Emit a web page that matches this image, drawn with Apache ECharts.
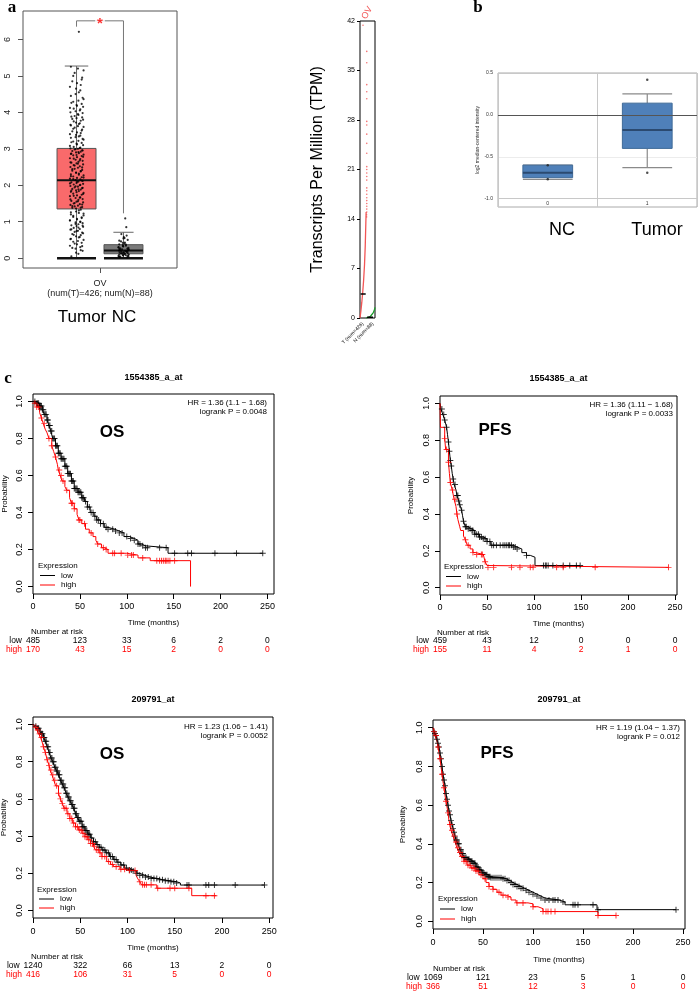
<!DOCTYPE html>
<html><head><meta charset="utf-8">
<script src="https://cdn.jsdelivr.net/npm/echarts@6.0.0/dist/echarts.min.js"></script>
<style>html,body{margin:0;padding:0;background:#fff}#wrap{position:relative;width:700px;height:992px}
.layer{position:absolute;left:0;top:0;width:700px;height:992px}
#ca{clip-path:inset(0 280px 632px 0)}#cb{clip-path:inset(0 0 632px 420px)}#cc{clip-path:inset(360px 0 0 0)}</style>
</head><body><div id="wrap"><div id="ca" class="layer"></div><div id="cb" class="layer"></div><div id="cc" class="layer"></div></div>
<script>
// ================= DATA =================
// Panel a (boxplot, GEPIA style)
const aGroups = ['Tumor', 'NC'];
const aBoxStats = [[0, 1.35, 2.14, 3.01, 5.27], [0, 0.12, 0.21, 0.37, 0.71]]; // low, q1, median, q3, upper whisker
const aYTicks = [0, 1, 2, 3, 4, 5, 6];
const aTumorValues = [0.05,0.12,0.2,0.26,0.3,0.34,0.38,0.42,0.45,0.5,0.53,0.57,0.6,0.63,0.66,0.7,0.72,0.75,0.78,0.8,0.83,0.86,0.88,0.9,0.93,0.96,0.98,1.0,1.03,1.06,1.1,1.13,1.17,1.2,1.24,1.28,1.33,
 1.38,1.4,1.42,1.44,1.46,1.48,1.5,1.53,1.55,1.57,1.6,1.62,1.65,1.67,1.7,1.72,1.74,1.77,1.79,1.82,1.84,1.86,1.88,1.9,1.92,1.94,1.96,1.98,2.0,2.02,2.04,2.06,2.08,2.1,2.12,2.14,2.16,2.18,2.2,2.22,2.24,2.27,2.3,2.32,2.35,2.38,2.4,2.42,2.45,2.48,2.5,2.52,2.55,2.57,2.6,2.62,2.64,2.67,2.7,2.72,2.74,2.77,2.8,2.82,2.84,2.86,2.88,2.9,2.92,2.94,2.96,2.98,3.0,3.01,3.02,
 3.05,3.1,3.14,3.18,3.22,3.27,3.32,3.36,3.4,3.45,3.5,3.55,3.6,3.64,3.68,3.72,3.77,3.82,3.86,3.9,3.95,4.0,4.05,4.1,4.15,4.2,4.26,4.32,4.4,4.5,4.6,4.7,4.8,4.9,5.0,5.15,5.25,6.21,
 0.15,0.22,0.28,0.33,0.4,0.47,0.52,0.58,0.64,0.68,0.74,0.79,0.84,0.89,0.94,0.99,1.04,1.08,1.12,1.16,1.22,1.26,1.31,1.36,
 1.39,1.43,1.47,1.51,1.56,1.61,1.66,1.71,1.76,1.81,1.85,1.89,1.93,1.97,2.01,2.05,2.09,2.13,2.17,2.21,2.25,2.29,2.34,2.39,2.44,2.49,2.54,2.59,2.63,2.68,2.73,2.78,2.83,2.87,2.91,2.95,2.99,
 3.03,3.08,3.12,3.16,3.2,3.25,3.3,3.34,3.38,3.43,3.48,3.53,3.58,3.62,3.66,3.7,3.75,3.8,3.84,3.88,3.93,3.98,4.03,4.08,4.12,4.18,4.23,4.29,4.36,4.45,4.55,4.65,4.75,4.85,4.95,5.08,5.2];
const aNCValues = [0.02,0.03,0.04,0.05,0.06,0.07,0.08,0.09,0.1,0.11,0.12,0.13,0.14,0.15,0.16,0.17,0.18,0.19,0.2,0.21,0.22,0.23,0.24,0.25,0.26,0.27,0.28,0.3,0.32,0.34,0.36,0.38,0.4,0.43,0.46,0.5,0.54,0.58,0.62,0.66,0.85,1.09,
 0.04,0.07,0.1,0.13,0.16,0.19,0.22,0.25,0.29,0.33,0.37,0.42,0.48,0.55];
const aJitter = [-0.11,0.04,0.13,-0.02,0.08,-0.14,0.01,0.11,-0.07,0.15,-0.12,0.05,-0.01,0.09,-0.09,0.12,-0.04,0.03,-0.13,0.07,-0.06,0.14,0.0];
const aXLabel = 'OV\n(num(T)=426; num(N)=88)';

// Panel a (TPM dot plot)
const tpmTicks = [0, 7, 14, 21, 28, 35, 42];
const tpmTumorCurve = [[0,0],[0.06,1],[0.12,2.2],[0.18,3.6],[0.24,5.3],[0.3,7.5],[0.35,10.2],[0.39,13.5],[0.41,15]];
const tpmTumorDots = [[0.2,41.4],[0.45,37.7],[0.45,36.1],[0.45,33],[0.45,32],[0.45,31],[0.45,27.8],[0.45,27.3],[0.45,26],[0.45,24.7],[0.45,23.3],[0.45,21.4],[0.45,21],[0.45,20.5],[0.45,20],[0.45,19.5],[0.45,18.4],[0.45,18],[0.45,17.5],[0.45,17],[0.45,16.6],[0.45,16.2],[0.45,15.8],[0.45,15.4],[0.45,15],[0.44,14.6],[0.44,14.3]];
const tpmNormalCurve = [[0.4,0],[0.55,0.1],[0.7,0.25],[0.8,0.45],[0.9,0.8],[0.97,1.2],[1.0,1.5]];
const tpmMedians = [3.4, 0.1];
const tpmGroupLabels = ['T (num=426)', 'N (num=88)'];

// Panel b (Oncomine boxplot)
const bCategories = ['0', '1'];
const bGroupNames = ['NC', 'Tumor'];
const bBoxStats = [[-0.77,-0.75,-0.69,-0.6,-0.6],[-0.63,-0.40,-0.18,0.14,0.25]]; // low whisker, q1, median, q3, high whisker
const bOutliers = [[0,-0.6],[0,-0.77],[1,0.42],[1,-0.69]];
const bYTicks = [-1.0, -0.5, 0.0, 0.5];

// Panel c (Kaplan-Meier)
const kmXTicks = [0, 50, 100, 150, 200, 250];
const kmYTicks = [0, 0.2, 0.4, 0.6, 0.8, 1.0];
const kmTitles = ['1554385_a_at', '1554385_a_at', '209791_at', '209791_at'];
const kmEndpoints = ['OS', 'PFS', 'OS', 'PFS'];
const kmHR = ['HR = 1.36 (1.1 − 1.68)', 'HR = 1.36 (1.11 − 1.68)', 'HR = 1.23 (1.06 − 1.41)', 'HR = 1.19 (1.04 − 1.37)'];
const kmP = ['logrank P = 0.0048', 'logrank P = 0.0033', 'logrank P = 0.0052', 'logrank P = 0.012'];

const km1Low = [[0,1],[3,0.99],[7,0.975],[10,0.955],[12,0.93],[15,0.9],[17,0.87],[19,0.84],[21,0.8],[24,0.76],[27,0.72],[30,0.69],[34,0.65],[37,0.61],[41,0.57],[44,0.53],[48,0.51],[52,0.48],[55,0.46],[58,0.43],[61,0.4],[65,0.38],[68,0.36],[72,0.34],[76,0.32],[80,0.31],[87,0.3],[92,0.29],[97,0.27],[103,0.26],[108,0.25],[112,0.23],[116,0.22],[120,0.21],[144,0.18],[245,0.18]];
const km1High = [[0,1],[2,0.99],[4,0.97],[7,0.94],[9,0.91],[11,0.88],[13,0.85],[15,0.83],[17,0.8],[20,0.76],[22,0.73],[24,0.7],[26,0.66],[27,0.63],[29,0.6],[31,0.57],[34,0.54],[36,0.52],[39,0.48],[41,0.45],[44,0.42],[47,0.39],[49,0.36],[52,0.34],[56,0.31],[60,0.29],[64,0.27],[67,0.25],[69,0.23],[73,0.21],[76,0.2],[80,0.18],[100,0.17],[112,0.155],[125,0.14],[168,0]];
const km1LowCens = [2,4,5,6,7,8,9,10,11,12,13,14,15,16,17,18,19,20,21,22,23,24,25,26,27,28,29,30,31,32,33,34,35,36,37,38,39,40,41,42,43,44,45,46,47,48,49,50,51,52,53,54,56,58,60,62,64,66,68,70,72,75,78,80,85,88,92,95,100,104,108,112,114,117,120,122,135,142,151,165,169,194,217,245];
const km1HighCens = [2,4,6,9,12,17,20,24,28,30,32,36,41,42,44,49,50,55,62,69,75,78,85,87,94,101,105,107,117,132,135,137,139,141,142,144,146,151];
const km1RiskLow = [485,123,33,6,2,0];
const km1RiskHigh = [170,43,15,2,0,0];

const km2Low = [[0,1],[1,0.97],[3,0.94],[5,0.91],[7,0.87],[8,0.83],[9,0.79],[10,0.74],[11,0.69],[12,0.66],[13,0.62],[14,0.59],[15,0.56],[17,0.53],[18,0.5],[20,0.47],[21,0.45],[23,0.42],[24,0.39],[25,0.36],[27,0.33],[30,0.32],[33,0.31],[37,0.29],[42,0.275],[46,0.265],[50,0.25],[54,0.23],[78,0.22],[82,0.21],[87,0.19],[92,0.175],[96,0.165],[101,0.12],[149,0.12]];
const km2High = [[0,1],[0.5,0.87],[5,0.81],[6,0.75],[9,0.68],[10,0.62],[11,0.57],[13,0.53],[15,0.48],[17,0.44],[18,0.4],[19,0.37],[21,0.33],[22,0.31],[25,0.28],[27,0.26],[29,0.23],[32,0.21],[35,0.19],[38,0.18],[46,0.17],[48,0.14],[50,0.12],[51,0.11],[243,0.11]];
const km2LowCens = [2,4,5,7,9,10,11,12,14,16,18,19,20,21,23,25,27,28,30,32,34,35,37,39,41,42,44,46,48,50,53,55,57,60,64,67,69,71,73,74,76,78,80,82,92,110,112,113,115,120,131,138,145,149];
const km2HighCens = [5,7,9,11,13.5,16,18,27,30,35,39,44,45,48,51,57,76,85,96,99,124,131,165,243];
const km2RiskLow = [459,43,12,0,0,0];
const km2RiskHigh = [155,11,4,2,1,0];

const km3Low = [[0,1],[2,0.99],[4,0.98],[7,0.96],[9,0.95],[11,0.93],[13,0.91],[15,0.88],[17,0.85],[19,0.82],[21,0.8],[23,0.77],[25,0.75],[27,0.73],[29,0.7],[31,0.68],[33,0.66],[35,0.63],[37,0.61],[39,0.59],[41,0.57],[43,0.55],[45,0.52],[47,0.5],[49,0.48],[52,0.45],[55,0.43],[58,0.41],[61,0.39],[64,0.37],[67,0.355],[70,0.34],[73,0.325],[77,0.31],[81,0.29],[85,0.275],[89,0.26],[93,0.245],[97,0.228],[102,0.218],[106,0.212],[110,0.2],[113,0.19],[118,0.18],[124,0.172],[132,0.165],[138,0.16],[145,0.155],[152,0.148],[156,0.137],[245,0.137]];
const km3High = [[0,1],[2,0.985],[4,0.97],[6,0.95],[8,0.93],[10,0.9],[11,0.88],[13,0.85],[15,0.81],[17,0.78],[18,0.755],[20,0.73],[22,0.7],[24,0.67],[27,0.63],[29,0.6],[31,0.576],[33,0.55],[36,0.52],[39,0.495],[42,0.47],[45,0.45],[48,0.433],[52,0.415],[55,0.397],[58,0.38],[61,0.36],[64,0.345],[66,0.326],[70,0.31],[73,0.29],[78,0.263],[82,0.248],[85,0.236],[92,0.222],[99,0.215],[109,0.19],[111,0.17],[113,0.155],[115,0.138],[131,0.12],[168,0.08],[194,0.08]];
const km3LowCens = [3,5,6,8,9,10,11,12,13,14,15,16,17,18,19,20,21,22,23,24,25,26,27,28,29,30,31,32,33,34,35,36,37,38,39,40,41,42,43,44,45,46,47,48,49,50,51,52,53,54,55,56,57,58,59,60,62,64,66,68,70,72,74,76,78,80,82,84,86,88,90,93,96,99,102,104,106,110,113,116,119,122,125,128,131,134,137,140,143,146,149,152,163,165,183,186,192,214,245];
const km3HighCens = [3,5,7,9,11,13,15,17,19,21,23,25,27,29,31,33,35,37,39,41,43,45,47,49,51,53,55,57,59,61,63,65,67,69,71,73,76,80,84,88,93,97,102,108,113,116,118,120,125,132,145,150,165,183,192];
const km3RiskLow = [1240,322,66,13,2,0];
const km3RiskHigh = [416,106,31,5,0,0];

const km4Low = [[0,1],[1,0.98],[2,0.97],[3,0.96],[4,0.94],[5,0.92],[6,0.9],[7,0.87],[8,0.84],[9,0.8],[10,0.76],[11,0.73],[12,0.7],[13,0.66],[14,0.63],[15,0.6],[16,0.57],[17,0.55],[18,0.52],[19,0.5],[20,0.48],[21,0.46],[22,0.44],[23,0.42],[25,0.4],[27,0.37],[29,0.35],[31,0.33],[34,0.32],[37,0.31],[40,0.3],[43,0.28],[46,0.265],[49,0.25],[52,0.24],[55,0.23],[58,0.225],[70,0.22],[73,0.21],[77,0.2],[80,0.19],[84,0.18],[88,0.17],[92,0.16],[96,0.15],[100,0.14],[104,0.13],[108,0.12],[112,0.11],[126,0.1],[132,0.085],[164,0.06],[243,0.06]];
const km4High = [[0,1],[1,0.98],[2,0.96],[4,0.93],[5,0.9],[6,0.87],[7,0.84],[8,0.8],[9,0.76],[10,0.72],[11,0.69],[12,0.65],[13,0.62],[14,0.59],[15,0.56],[16,0.52],[17,0.5],[18,0.47],[20,0.44],[22,0.41],[24,0.38],[26,0.355],[28,0.335],[31,0.31],[34,0.29],[38,0.275],[42,0.26],[46,0.24],[50,0.22],[53,0.2],[56,0.18],[60,0.165],[64,0.15],[68,0.135],[73,0.125],[78,0.11],[83,0.095],[95,0.09],[100,0.075],[105,0.065],[110,0.05],[165,0.03],[183,0.03]];
const km4LowCens = [1,2,3,4,5,6,7,8,9,10,11,12,13,14,15,16,17,18,19,20,21,22,23,24,25,26,27,28,29,30,31,32,33,34,35,36,37,38,39,40,41,42,43,44,45,46,47,48,49,50,51,52,53,54,55,56,57,58,60,62,64,66,68,70,72,74,76,78,80,82,84,86,88,90,93,96,100,104,108,112,116,120,122,125,130,140,142,145,160,165,243];
const km4HighCens = [1,3,5,7,9,11,13,15,17,19,21,23,25,27,29,31,33,35,37,39,41,43,45,48,52,56,60,66,70,75,84,90,100,110,113,115,118,122,165,183];
const km4RiskLow = [1069,121,23,5,1,0];
const km4RiskHigh = [366,51,12,3,0,0];

const kmSets = [
  {low: km1Low, high: km1High, lowC: km1LowCens, highC: km1HighCens, rLow: km1RiskLow, rHigh: km1RiskHigh},
  {low: km2Low, high: km2High, lowC: km2LowCens, highC: km2HighCens, rLow: km2RiskLow, rHigh: km2RiskHigh},
  {low: km3Low, high: km3High, lowC: km3LowCens, highC: km3HighCens, rLow: km3RiskLow, rHigh: km3RiskHigh},
  {low: km4Low, high: km4High, lowC: km4LowCens, highC: km4HighCens, rLow: km4RiskLow, rHigh: km4RiskHigh}
];

// ================= LAYOUT / STYLE =================
const SANS = '"Liberation Sans", Arial, Helvetica, sans-serif';
const SERIF = '"Liberation Serif", "DejaVu Serif", serif';
const RED = '#ff0000';
const LA = {left: 23, top: 11, width: 154, height: 257, xMin: 0.36, xMax: 3.64, yMin: -0.27, yMax: 6.78,
  pos: [1.5, 2.5], tick: 2, boxW: 0.83, capW: [0.5, 0.43], jit: [1, 0.75], fills: ['#f96a6b', '#7a7a7a'],
  bracketTop: 6.51, bracketL: 6.35, bracketR: 1.23};
const LT = {left: 360, top: 21, width: 15, height: 297, tumorSpan: [0.04, 0.38], normalSpan: [0.47, 0.87]};
const LB = {left: 498, top: 73, width: 199, height: 134, yMin: -1.1, yMax: 0.5};
const KML = [
  {left: 33, top: 394, width: 241, height: 200, xMax: 257, titleY: 378, hrRight: 267, hrY: 403, epX: 112, epY: 432, legX: 38, legY: 566, legDy: 9.5, tickY: 607, timeY: 623, narX: 57, narY: 632, lowY: 641, highY: 650, yName: 24},
  {left: 440, top: 396, width: 237, height: 199, xMax: 252, titleY: 379, hrRight: 673, hrY: 405, epX: 495, epY: 430, legX: 444, legY: 567, legDy: 9.5, tickY: 608, timeY: 624, narX: 463, narY: 633, lowY: 641, highY: 650, yName: 25},
  {left: 33, top: 717, width: 240, height: 201, xMax: 254, titleY: 700, hrRight: 268, hrY: 727, epX: 112, epY: 754, legX: 37, legY: 890, legDy: 9, tickY: 932, timeY: 948, narX: 57, narY: 957, lowY: 966, highY: 975, yName: 25},
  {left: 433, top: 720, width: 252, height: 209, xMax: 252, titleY: 700, hrRight: 680, hrY: 728, epX: 497, epY: 753, legX: 438, legY: 899, legDy: 10, tickY: 943, timeY: 960, narX: 459, narY: 969, lowY: 978, highY: 987, yName: 26}
];
const PLUS = 'path://M4.2,0h1.6v10h-1.6z M0,4.2h10v1.6h-10z';
const NOLINE = {show: false, onZero: false};

function stepAt(curve, t) {
  let s = curve[0][1];
  for (const p of curve) { if (p[0] <= t) s = p[1]; else break; }
  return s;
}
function group() { return {grid: [], xAxis: [], yAxis: [], series: [], graphic: []}; }
function txt(G, x, y, text, o) {
  o = o || {};
  G.graphic.push({type: 'text', x: x, y: y, rotation: o.rot || 0, z: 50,
    style: {text: text, fill: o.color || '#000', font: (o.weight || 'normal') + ' ' + (o.size || 9) + 'px ' + (o.family || SANS),
      textAlign: o.align || 'center', textVerticalAlign: o.valign || 'middle'}});
}
function gline(G, x1, y1, x2, y2, color) {
  G.graphic.push({type: 'line', z: 50, shape: {x1: x1, y1: y1, x2: x2, y2: y2}, style: {stroke: color, lineWidth: 1}});
}

// ---------- Layer A: panel a ----------
const GA = group();
GA.grid.push({left: LA.left, top: LA.top, width: LA.width, height: LA.height, show: true, borderColor: '#555', borderWidth: 1, outerBoundsMode: 'none'});
GA.xAxis.push({gridIndex: 0, type: 'value', min: LA.xMin, max: LA.xMax, position: 'bottom',
  axisLine: NOLINE, splitLine: {show: false},
  axisTick: {show: true, length: 5, lineStyle: {color: '#555'}, customValues: [LA.tick]},
  axisLabel: {customValues: [LA.tick], formatter: () => aXLabel, fontSize: 9, lineHeight: 10, margin: 11, color: '#222'}});
GA.yAxis.push({gridIndex: 0, type: 'value', min: LA.yMin, max: LA.yMax, position: 'left',
  axisLine: NOLINE, splitLine: {show: false},
  axisTick: {show: true, length: 5, lineStyle: {color: '#555'}, customValues: aYTicks},
  axisLabel: {customValues: aYTicks, rotate: 90, fontSize: 9, margin: 11, color: '#222'}});
GA.series.push({type: 'custom', xAxisIndex: 0, yAxisIndex: 0, z: 2,
  data: aBoxStats.map((s, i) => [LA.pos[i]].concat(s).concat([i])),
  encode: {x: 0, y: [1, 2, 3, 4, 5]},
  renderItem: function (params, api) {
    const x = api.value(0), lo = api.value(1), q1 = api.value(2), med = api.value(3), q3 = api.value(4), hi = api.value(5), i = api.value(6);
    const w = LA.boxW / 2, cw = LA.capW[i] / 2;
    const tl = api.coord([x - w, q3]), br = api.coord([x + w, q1]);
    const ph = api.coord([x, hi]), pq3 = api.coord([x, q3]), pq1 = api.coord([x, q1]), plo = api.coord([x, lo]);
    const c1 = api.coord([x - cw, hi]), c2 = api.coord([x + cw, hi]);
    const m1 = api.coord([x - w, med]), m2 = api.coord([x + w, med]);
    const z1 = api.coord([x - w, lo]), z2 = api.coord([x + w, lo]);
    const st = {stroke: '#666', lineWidth: 1};
    return {type: 'group', children: [
      {type: 'line', shape: {x1: ph[0], y1: ph[1], x2: pq3[0], y2: pq3[1]}, style: st},
      {type: 'line', shape: {x1: pq1[0], y1: pq1[1], x2: plo[0], y2: plo[1]}, style: st},
      {type: 'line', shape: {x1: c1[0], y1: c1[1], x2: c2[0], y2: c2[1]}, style: st},
      {type: 'rect', shape: {x: tl[0], y: tl[1], width: br[0] - tl[0], height: br[1] - tl[1]}, style: {fill: LA.fills[i], stroke: '#555', lineWidth: 1}},
      {type: 'line', shape: {x1: m1[0], y1: m1[1], x2: m2[0], y2: m2[1]}, style: {stroke: '#111', lineWidth: 2}},
      {type: 'line', shape: {x1: z1[0], y1: z1[1], x2: z2[0], y2: z2[1]}, style: {stroke: '#111', lineWidth: 2.5}}
    ]};
  }});
GA.series.push({type: 'scatter', xAxisIndex: 0, yAxisIndex: 0, symbol: 'circle', symbolSize: 2.2, z: 5,
  itemStyle: {color: '#000'}, silent: true,
  data: aTumorValues.map((v, i) => [LA.pos[0] + aJitter[i % aJitter.length] * LA.jit[0], v])});
GA.series.push({type: 'scatter', xAxisIndex: 0, yAxisIndex: 0, symbol: 'circle', symbolSize: 2.2, z: 5,
  itemStyle: {color: '#000'}, silent: true,
  data: aNCValues.map((v, i) => [LA.pos[1] + aJitter[(i * 7) % aJitter.length] * LA.jit[1], v])});
GA.series.push({type: 'line', xAxisIndex: 0, yAxisIndex: 0, symbol: 'none', z: 4, silent: true,
  lineStyle: {color: '#777', width: 1},
  data: [[LA.pos[0], LA.bracketL], [LA.pos[0], LA.bracketTop], [LA.pos[1], LA.bracketTop], [LA.pos[1], LA.bracketR]]});
GA.series.push({type: 'scatter', xAxisIndex: 0, yAxisIndex: 0, symbolSize: 0, z: 6, silent: true,
  data: [[(LA.pos[0] + LA.pos[1]) / 2, LA.bracketTop]],
  label: {show: true, position: 'inside', formatter: '*', color: RED, fontSize: 15, fontWeight: 'bold', backgroundColor: '#fff', padding: [0, 2, 0, 2], offset: [0, 3]}});

GA.grid.push({left: LT.left, top: LT.top, width: LT.width, height: LT.height, show: true, borderColor: '#000', borderWidth: 1, outerBoundsMode: 'none'});
GA.xAxis.push({gridIndex: 1, type: 'value', min: 0, max: 1, show: false});
GA.yAxis.push({gridIndex: 1, type: 'value', min: 0, max: 42, interval: 7, position: 'left',
  axisLine: NOLINE, splitLine: {show: false},
  axisTick: {show: true, length: 3, lineStyle: {color: '#000'}},
  axisLabel: {fontSize: 7, margin: 5, color: '#000'},
  name: 'Transcripts Per Million (TPM)', nameLocation: 'middle', nameGap: 34,
  nameTextStyle: {fontSize: 16, color: '#000'}});
GA.series.push({type: 'line', xAxisIndex: 1, yAxisIndex: 1, symbol: 'none', data: tpmTumorCurve, lineStyle: {color: '#f25555', width: 1.3}, silent: true});
GA.series.push({type: 'scatter', xAxisIndex: 1, yAxisIndex: 1, symbolSize: 1.6, data: tpmTumorDots, itemStyle: {color: '#f25555'}, silent: true});
GA.series.push({type: 'line', xAxisIndex: 1, yAxisIndex: 1, symbol: 'none', data: tpmNormalCurve, lineStyle: {color: '#1a9a2a', width: 1.3}, silent: true});
GA.series.push({type: 'line', xAxisIndex: 1, yAxisIndex: 1, symbol: 'none', z: 4, lineStyle: {color: '#000', width: 1.5}, silent: true,
  data: [[LT.tumorSpan[0], tpmMedians[0]], [LT.tumorSpan[1], tpmMedians[0]]]});
GA.series.push({type: 'line', xAxisIndex: 1, yAxisIndex: 1, symbol: 'none', z: 4, lineStyle: {color: '#000', width: 1.5}, silent: true,
  data: [[LT.normalSpan[0], tpmMedians[1]], [LT.normalSpan[1], tpmMedians[1]]]});
txt(GA, 12, 8, 'a', {weight: 'bold', size: 17, family: SERIF});
txt(GA, 82, 317, aGroups[0], {size: 17});
txt(GA, 124, 317, aGroups[1], {size: 17});
txt(GA, 367, 13, 'OV', {size: 9, color: '#f25555', rot: Math.PI / 3});
txt(GA, 363, 323, tpmGroupLabels[0], {size: 5, align: 'right', rot: Math.PI / 4});
txt(GA, 373, 323, tpmGroupLabels[1], {size: 5, align: 'right', rot: Math.PI / 4});

// ---------- Layer B: panel b ----------
const GB = group();
GB.grid.push({left: LB.left, top: LB.top, width: LB.width, height: LB.height, show: true, borderColor: '#aaa', borderWidth: 1, outerBoundsMode: 'none'});
GB.xAxis.push({gridIndex: 0, type: 'category', data: bCategories, boundaryGap: true, position: 'bottom',
  axisLine: NOLINE, axisTick: {show: false},
  splitLine: {show: true, lineStyle: {color: '#c8c8c8', width: 1}},
  axisLabel: {inside: true, fontSize: 5, margin: 1, color: '#333'}});
GB.yAxis.push({gridIndex: 0, type: 'value', min: LB.yMin, max: LB.yMax, position: 'left',
  axisLine: NOLINE,
  axisTick: {show: false, customValues: bYTicks},
  splitLine: {show: true, lineStyle: {color: ['#c8c8c8', '#ececec', '#c8c8c8', '#c8c8c8'], width: 1}},
  axisLabel: {customValues: bYTicks, formatter: v => v.toFixed(1), fontSize: 5, margin: 5, color: '#333'},
  name: 'log2 median-centered intensity', nameLocation: 'middle', nameGap: 16,
  nameTextStyle: {fontSize: 5, color: '#333'}});
GB.series.push({type: 'custom', xAxisIndex: 0, yAxisIndex: 0, z: 3,
  data: bBoxStats.map((s, i) => [i].concat(s)),
  encode: {x: 0, y: [1, 2, 3, 4, 5]},
  markLine: {silent: true, symbol: 'none', label: {show: false}, lineStyle: {color: '#555', type: 'solid', width: 1}, data: [{yAxis: 0}]},
  renderItem: function (params, api) {
    const i = api.value(0), lo = api.value(1), q1 = api.value(2), med = api.value(3), q3 = api.value(4), hi = api.value(5);
    const w = api.size([1, 0])[0] * 0.25;
    const pl = api.coord([i, lo]), p1 = api.coord([i, q1]), pm = api.coord([i, med]), p3 = api.coord([i, q3]), ph = api.coord([i, hi]);
    const cx = pl[0];
    const st = {stroke: '#8a8a8a', lineWidth: 1.2};
    return {type: 'group', children: [
      {type: 'line', shape: {x1: cx, y1: ph[1], x2: cx, y2: p3[1]}, style: st},
      {type: 'line', shape: {x1: cx, y1: p1[1], x2: cx, y2: pl[1]}, style: st},
      {type: 'line', shape: {x1: cx - w, y1: ph[1], x2: cx + w, y2: ph[1]}, style: st},
      {type: 'line', shape: {x1: cx - w, y1: pl[1], x2: cx + w, y2: pl[1]}, style: st},
      {type: 'rect', shape: {x: cx - w, y: p3[1], width: 2 * w, height: p1[1] - p3[1]}, style: {fill: '#4f80b9', stroke: '#3f6a98', lineWidth: 1}},
      {type: 'line', shape: {x1: cx - w, y1: pm[1], x2: cx + w, y2: pm[1]}, style: {stroke: '#2b4a70', lineWidth: 2}}
    ]};
  }});
GB.series.push({type: 'scatter', xAxisIndex: 0, yAxisIndex: 0, symbolSize: 2.5, z: 5, data: bOutliers, itemStyle: {color: '#222'}, silent: true});
txt(GB, 478, 8, 'b', {weight: 'bold', size: 17, family: SERIF});
txt(GB, 562, 230, bGroupNames[0], {size: 18});
txt(GB, 657, 230, bGroupNames[1], {size: 18});

// ---------- Layer C: panel c (KM) ----------
const GC = group();
KML.forEach((L, k) => {
  const D = kmSets[k];
  const g = GC.grid.length;
  GC.grid.push({left: L.left, top: L.top, width: L.width, height: L.height, show: true, borderColor: '#000', borderWidth: 1, outerBoundsMode: 'none'});
  const bottom = L.top + L.height;
  const xi = GC.xAxis.length;
  GC.xAxis.push({gridIndex: g, type: 'value', min: 0, max: L.xMax, position: 'bottom',
    axisLine: NOLINE, splitLine: {show: false},
    axisTick: {show: true, length: 5, lineStyle: {color: '#000'}, customValues: kmXTicks},
    axisLabel: {customValues: kmXTicks, fontSize: 9, margin: L.tickY - bottom - 5, color: '#000'},
    name: 'Time (months)', nameLocation: 'middle', nameGap: L.timeY - bottom - 4,
    nameTextStyle: {fontSize: 8, color: '#000'}});
  [['low', D.rLow, L.lowY, '#000'], ['high', D.rHigh, L.highY, RED]].forEach(r => {
    GC.xAxis.push({gridIndex: g, type: 'value', min: 0, max: L.xMax, position: 'bottom', offset: r[2] - bottom - 4.5,
      axisLine: NOLINE, axisTick: {show: false}, splitLine: {show: false},
      axisLabel: {customValues: kmXTicks, margin: 0, fontSize: 8.5, color: r[3],
        formatter: v => String(r[1][kmXTicks.indexOf(v)])},
      name: r[0], nameLocation: 'start', nameGap: 7,
      nameTextStyle: {fontSize: 8.5, color: r[3], verticalAlign: 'top', align: 'right'}});
  });
  const yi = GC.yAxis.length;
  GC.yAxis.push({gridIndex: g, type: 'value', min: -0.04, max: 1.04, position: 'left',
    axisLine: NOLINE, splitLine: {show: false},
    axisTick: {show: true, length: 5, lineStyle: {color: '#000'}, customValues: kmYTicks},
    axisLabel: {customValues: kmYTicks, rotate: 90, formatter: v => v.toFixed(1), fontSize: 9, margin: 8.5, color: '#000'},
    name: 'Probability', nameLocation: 'middle', nameGap: L.yName,
    nameTextStyle: {fontSize: 8, color: '#000'}});
  [[D.low, D.lowC, '#000'], [D.high, D.highC, RED]].forEach(c => {
    GC.series.push({type: 'line', xAxisIndex: xi, yAxisIndex: yi, step: 'end', symbol: 'none', data: c[0],
      lineStyle: {color: c[2], width: 1}, silent: true, z: 3});
    GC.series.push({type: 'scatter', xAxisIndex: xi, yAxisIndex: yi, symbol: PLUS, symbolSize: 6, silent: true, z: 3,
      itemStyle: {color: c[2]}, data: c[1].map(t => [t, stepAt(c[0], t)])});
  });
  txt(GC, L.left + L.width / 2, L.titleY, kmTitles[k], {weight: 'bold', size: 9});
  txt(GC, L.hrRight, L.hrY, kmHR[k], {size: 8, align: 'right'});
  txt(GC, L.hrRight, L.hrY + 9, kmP[k], {size: 8, align: 'right'});
  txt(GC, L.epX, L.epY, kmEndpoints[k], {weight: 'bold', size: 17});
  txt(GC, L.legX, L.legY, 'Expression', {size: 8, align: 'left'});
  gline(GC, L.legX + 2, L.legY + L.legDy, L.legX + 17, L.legY + L.legDy, '#000');
  gline(GC, L.legX + 2, L.legY + 2 * L.legDy, L.legX + 17, L.legY + 2 * L.legDy, RED);
  txt(GC, L.legX + 23, L.legY + L.legDy, 'low', {size: 8, align: 'left'});
  txt(GC, L.legX + 23, L.legY + 2 * L.legDy, 'high', {size: 8, align: 'left'});
  txt(GC, L.narX, L.narY, 'Number at risk', {size: 8});
});
txt(GC, 8, 379, 'c', {weight: 'bold', size: 17, family: SERIF});

[['ca', GA], ['cb', GB], ['cc', GC]].forEach(([id, G]) => {
  const ch = echarts.init(document.getElementById(id), null, {renderer: 'canvas'});
  ch.setOption({animation: false, backgroundColor: 'transparent', textStyle: {fontFamily: SANS},
    grid: G.grid, xAxis: G.xAxis, yAxis: G.yAxis, series: G.series, graphic: G.graphic});
});
</script></body></html>
